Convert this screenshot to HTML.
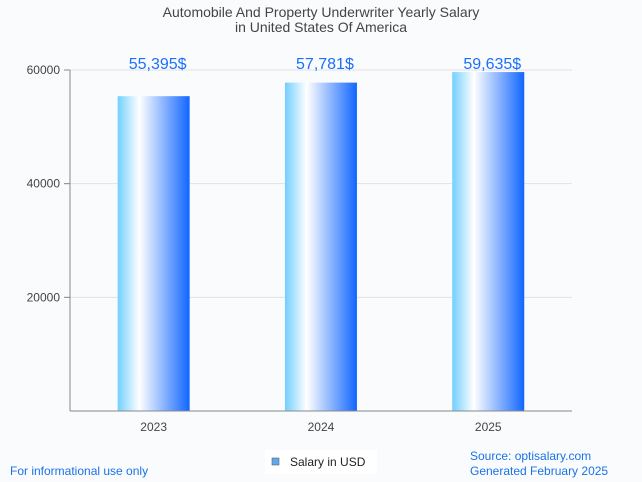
<!DOCTYPE html>
<html><head><meta charset="utf-8"><style>
body{margin:0;background:#fafbfd;font-family:"Liberation Sans",sans-serif;}
svg{display:block}
</style></head><body>
<svg width="642" height="482">
<defs><linearGradient id="bg" x1="0" x2="1" y1="0" y2="0">
<stop offset="0" stop-color="#72cfff"/><stop offset="0.3" stop-color="#ffffff"/><stop offset="1" stop-color="#1166ff"/></linearGradient></defs>
<rect width="642" height="482" fill="#fafbfd"/>
<text x="321" y="17" text-anchor="middle" font-size="14" fill="#444">Automobile And Property Underwriter Yearly Salary</text>
<text x="321" y="32" text-anchor="middle" font-size="14" fill="#444">in United States Of America</text>
<g id="grid"></g><g id="bars"></g>
<line x1="70" y1="70" x2="70" y2="411" stroke="#888"/>
<line x1="70" y1="411" x2="572" y2="411" stroke="#888"/>
<g><rect x="265" y="450" width="112" height="24" fill="#fff"/>
<rect x="272" y="458" width="7" height="7" fill="#5ea8ee" stroke="#666" stroke-width="0.6"/>
<text x="290" y="466" font-size="12" fill="#222">Salary in USD</text></g>
<text x="10" y="475" font-size="12" fill="#1a73e8">For informational use only</text>
<text x="470" y="460" font-size="12" fill="#1a73e8">Source: optisalary.com</text>
<text x="470" y="475" font-size="12" fill="#1a73e8">Generated February 2025</text>
</svg>
<script>
const categories=["2023","2024","2025"];
const values=[55395,57781,59635];
const labels=["55,395$","57,781$","59,635$"];
const ticks=[20000,40000,60000];
const NS="http://www.w3.org/2000/svg";
const y=v=>411-v*(341/60000);
const x0=70,band=167.3;
const cx=i=>x0+band*(i+0.5);
function mk(t,a,p){const e=document.createElementNS(NS,t);for(const k in a)e.setAttribute(k,a[k]);p.appendChild(e);return e;}
const g=document.getElementById('grid'),b=document.getElementById('bars');
ticks.forEach(t=>{
const l=mk('line',{x1:64,x2:572,y1:y(t),y2:y(t),stroke:'#e2e2e2'},g);


mk('line',{x1:64,x2:70,y1:y(t),y2:y(t),stroke:'#888'},g);
const tx=mk('text',{x:60,y:y(t)+4,'text-anchor':'end','font-size':12,fill:'#444'},g);tx.textContent=t;


});
categories.forEach((c,i)=>{
const r=mk('rect',{x:cx(i)-36,y:y(values[i]),width:72,height:411-y(values[i]),fill:'url(#bg)'},b);


const v=mk('text',{x:cx(i)+4,y:69,'text-anchor':'middle','font-size':16,fill:'#1a6fff'},b);v.textContent=labels[i];


const t=mk('text',{x:cx(i),y:431,'text-anchor':'middle','font-size':12,fill:'#444'},b);t.textContent=c;


});
</script>
</body></html>
